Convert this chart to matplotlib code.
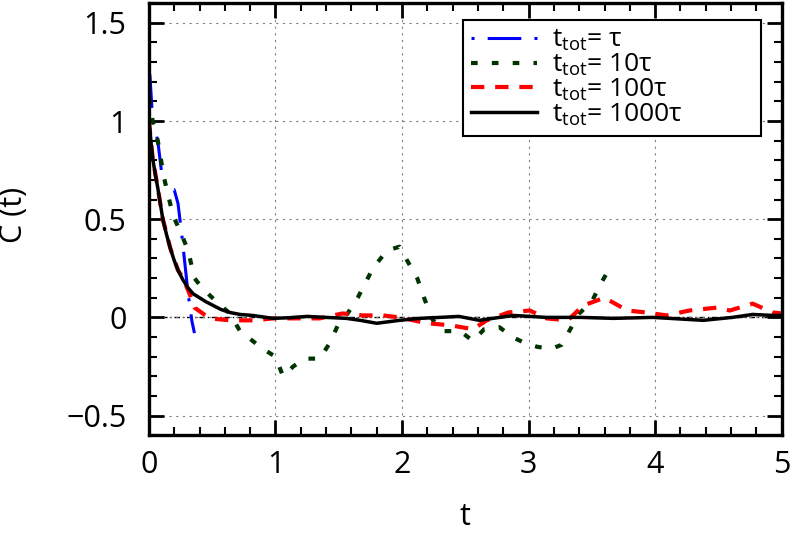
import matplotlib
matplotlib.use("Agg")
import matplotlib.pyplot as plt
from matplotlib.ticker import MultipleLocator

plt.rcParams['font.family'] = ['Open Sans', 'DejaVu Sans']
plt.rcParams['mathtext.fontset'] = 'custom'
plt.rcParams['mathtext.rm'] = 'Open Sans'

# ================= DATA =================
t_1 = [0.0, 0.03, 0.07, 0.1, 0.15, 0.2, 0.23, 0.26, 0.31, 0.34, 0.36]
c_1 = [1.32, 1.0, 0.9, 0.74, 0.64, 0.65, 0.58, 0.42, 0.12, -0.02, -0.08]

t_10 = [0.0, 0.03, 0.07, 0.12, 0.19, 0.26, 0.31, 0.36, 0.42, 0.55, 0.64, 0.72, 0.82,
        0.9, 1.0, 1.06, 1.14, 1.23, 1.35, 1.43, 1.5, 1.57, 1.65, 1.77, 1.88, 1.98,
        2.04, 2.12, 2.18, 2.24, 2.32, 2.46, 2.56, 2.65, 2.77, 2.87, 2.97, 3.07,
        3.18, 3.26, 3.33, 3.4, 3.5, 3.56, 3.64]
c_10 = [1.12, 1.0, 0.9, 0.71, 0.52, 0.42, 0.34, 0.2, 0.15, 0.07, 0.02, -0.07, -0.12,
        -0.16, -0.2, -0.3, -0.25, -0.21, -0.21, -0.13, -0.03, 0.02, 0.1, 0.25, 0.34, 0.36,
        0.29, 0.2, 0.09, -0.01, -0.07, -0.07, -0.12, -0.06, -0.05, -0.1, -0.13, -0.15,
        -0.16, -0.14, -0.06, 0.02, 0.08, 0.16, 0.25]

t_100 = [0.0, 0.03, 0.07, 0.11, 0.17, 0.23, 0.27, 0.34, 0.36, 0.48, 0.64, 0.84, 0.98,
         1.14, 1.35, 1.53, 1.69, 1.85, 1.98, 2.2, 2.38, 2.56, 2.67, 2.84, 3.01, 3.14,
         3.31, 3.43, 3.6, 3.78, 3.93, 4.09, 4.27, 4.49, 4.59, 4.77, 4.93, 5.0]
c_100 = [1.0, 0.81, 0.66, 0.5, 0.35, 0.24, 0.2, 0.09, 0.05, -0.005, -0.015, -0.015, -0.005,
         -0.005, -0.005, 0.02, 0.01, 0.01, 0.0, -0.03, -0.04, -0.06, -0.015, 0.025, 0.035, -0.005,
         -0.015, 0.06, 0.1, 0.035, 0.025, 0.01, 0.035, 0.05, 0.035, 0.07, 0.025, 0.02]

t_1000 = [0.0, 0.01, 0.02, 0.03, 0.05, 0.07, 0.09, 0.11, 0.14, 0.17, 0.2, 0.23, 0.27,
          0.31, 0.35, 0.4, 0.45, 0.51, 0.57, 0.64, 0.72, 0.82, 0.98, 1.1,
          1.25, 1.4, 1.56, 1.67, 1.8, 1.98, 2.14, 2.3, 2.45, 2.61, 2.88, 3.14, 3.41,
          3.67, 3.98, 4.38, 4.61, 4.77, 4.93, 5.0]
c_1000 = [1.0, 0.94, 0.87, 0.81, 0.73, 0.66, 0.58, 0.5, 0.42, 0.35, 0.29, 0.24, 0.19,
          0.15, 0.12, 0.1, 0.08, 0.06, 0.04, 0.025, 0.015, 0.01, -0.005, -0.002,
          0.005, 0.0, -0.005, -0.015, -0.03, -0.015, -0.005, 0.0, 0.005, -0.015, 0.01, 0.0, 0.0,
          -0.005, 0.0, -0.015, 0.0, 0.015, 0.01, 0.01]

labels = [r'$\mathregular{t_{tot}}$= τ', r'$\mathregular{t_{tot}}$= 10τ',
          r'$\mathregular{t_{tot}}$= 100τ', r'$\mathregular{t_{tot}}$= 1000τ']

# ================= PLOT =================
fig = plt.figure(figsize=(7.92, 5.34), dpi=100)
ax = fig.add_axes([0.188, 0.185, 0.799, 0.809])

ax.axhline(0, color='black', lw=1, ls=(0, (4, 2, 1, 2)), zorder=1)

ax.plot(t_1, c_1, color='#0000ff', lw=2.2, ls=(0, (1, 4.3, 11, 4.3)), label=labels[0])
ax.plot(t_10, c_10, color='#003300', lw=3, ls=(0, (1.6, 3.4)), label=labels[1])
ax.plot(t_100, c_100, color='#ff0000', lw=3, ls=(0, (3.2, 2.6)), label=labels[2])
ax.plot(t_1000, c_1000, color='black', lw=2.5, label=labels[3])

ax.set_xlim(0, 5)
ax.set_ylim(-0.6, 1.6)
ax.xaxis.set_major_locator(MultipleLocator(1))
ax.xaxis.set_minor_locator(MultipleLocator(0.2))
ax.yaxis.set_minor_locator(MultipleLocator(0.1))
ax.set_yticks([-0.5, 0, 0.5, 1, 1.5])
ax.set_yticklabels(['−0.5', '0', '0.5', '1', '1.5'])

ax.tick_params(which='both', direction='in', top=True, right=True, labelsize=22)
ax.tick_params(which='major', length=11, width=2)
ax.tick_params(which='minor', length=6, width=1.5)
ax.tick_params(axis='x', pad=11)
ax.tick_params(axis='y', pad=16)
for s in ax.spines.values():
    s.set_linewidth(2.4)

ax.grid(True, which='major', color='gray', ls=(0, (2, 4)), lw=0.8)

ax.set_xlabel('t', fontsize=22)
ax.set_ylabel('C (t)', fontsize=22)
ax.xaxis.set_label_coords(0.5, -0.155)
ax.yaxis.set_label_coords(-0.19, 0.51)

leg = ax.legend(loc='upper left', bbox_to_anchor=(0.496, 0.5, 0.472, 0.461), mode='expand',
                borderaxespad=0, fontsize=19, fancybox=False, framealpha=1,
                edgecolor='black', handlelength=2.5, handletextpad=0.6,
                labelspacing=-0.05, borderpad=0.3)
leg.get_frame().set_linewidth(1.5)

fig.savefig('out.png', dpi=100)
